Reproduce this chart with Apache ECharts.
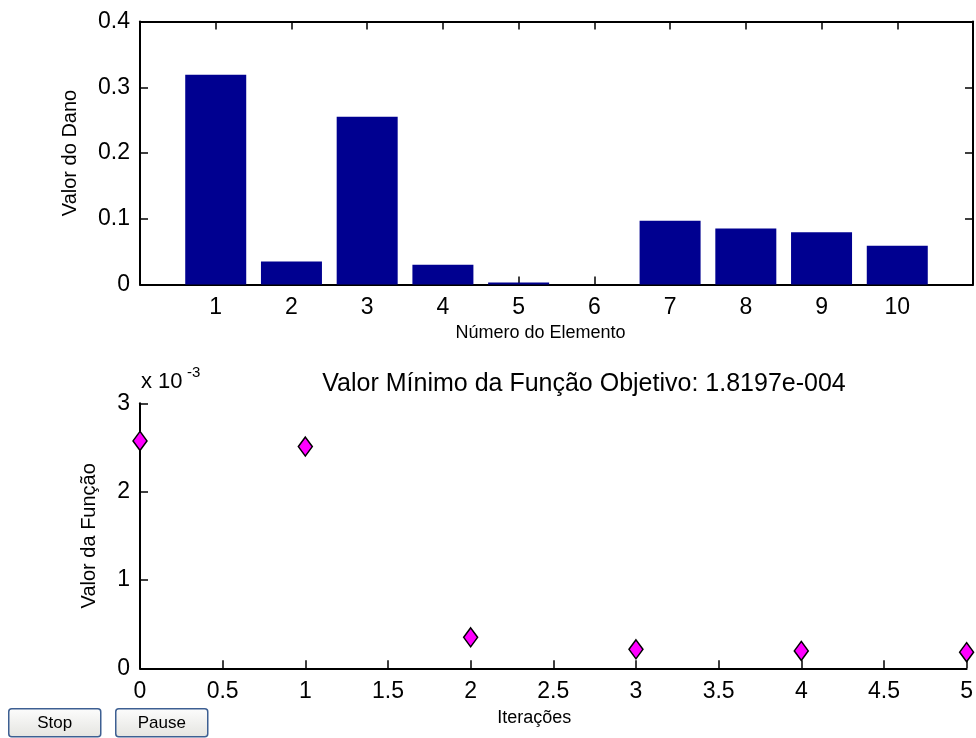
<!DOCTYPE html>
<html>
<head>
<meta charset="utf-8">
<script src="https://cdn.jsdelivr.net/npm/echarts@6/dist/echarts.min.js"></script>
<style>
  html, body { margin: 0; padding: 0; background: #ffffff; }
  #chart { width: 976px; height: 738px; }
</style>
</head>
<body>
<div id="chart"></div>
<script>
// ---- data ----
const elementos = [1, 2, 3, 4, 5, 6, 7, 8, 9, 10];
const valorDano = [0.319, 0.035, 0.255, 0.030, 0.003, 0, 0.097, 0.085, 0.0795, 0.059];
const iteracoes = [0, 1, 2, 3, 4, 5];
const valorFuncaoE3 = [2.574, 2.51, 0.351, 0.215, 0.196, 0.182]; // in units of 10^-3
const tituloInferior = 'Valor Mínimo da Função Objetivo: 1.8197e-004';
const nomeXSup = 'Número do Elemento';
const nomeYSup = 'Valor do Dano';
const nomeXInf = 'Iterações';
const nomeYInf = 'Valor da Função';
const botoes = ['Stop', 'Pause'];

const FONT = '"Liberation Sans", Arial, sans-serif';
const tickFont = { fontFamily: FONT, fontSize: 23, color: '#000' };
const yNameFont = { fontFamily: FONT, fontSize: 20, color: '#000' };
function xNameFont(shift) { return { fontFamily: FONT, fontSize: 18, color: '#000', padding: [0, 2 * shift, 0, 0] }; }
function axLine() { return { show: true, onZero: false, lineStyle: { color: '#000', width: 2 } }; }
function tick() { return { show: true, inside: true, length: 8, lineStyle: { color: '#000', width: 1.5 } }; }

const chart = echarts.init(document.getElementById('chart'), null, { renderer: 'canvas' });

function button(label, x) {
  return {
    type: 'group', left: x, top: 708,
    children: [
      { type: 'rect', shape: { x: 0, y: 0, width: 92, height: 28, r: 3 },
        style: { fill: new echarts.graphic.LinearGradient(0, 0, 0, 1, [
          { offset: 0, color: '#fdfdfd' }, { offset: 1, color: '#e4e4e0' }]),
          stroke: '#3d5f92', lineWidth: 1.5 } },
      { type: 'text', style: { text: label, x: 46, y: 15, align: 'center', verticalAlign: 'middle',
        fontFamily: FONT, fontSize: 17, fill: '#000' } }
    ]
  };
}

const option = {
  animation: false,
  backgroundColor: '#ffffff',
  grid: [
    { left: 140, top: 21.5, width: 835, height: 263 },
    { left: 140, top: 403.3, width: 833.5, height: 265 }
  ],
  xAxis: [
    { gridIndex: 0, type: 'value', min: 0, max: 11, interval: 1, position: 'bottom',
      axisLine: axLine(), axisTick: tick(),
      axisLabel: { ...tickFont, margin: 12,
        formatter: v => (elementos.indexOf(v) >= 0 ? String(v) : '') },
      splitLine: { show: false },
      name: nomeXSup, nameLocation: 'middle', nameGap: 40, nameTextStyle: xNameFont(16) },
    { gridIndex: 0, type: 'value', min: 0, max: 11, interval: 1, position: 'top',
      axisLine: axLine(), axisTick: tick(),
      axisLabel: { show: false }, splitLine: { show: false } },
    { gridIndex: 1, type: 'value', min: 0, max: 5, interval: 0.5, position: 'bottom',
      axisLine: axLine(), axisTick: tick(),
      axisLabel: { ...tickFont, margin: 12, showMinLabel: true, showMaxLabel: true },
      splitLine: { show: false },
      name: nomeXInf, nameLocation: 'middle', nameGap: 41, nameTextStyle: xNameFont(19) }
  ],
  yAxis: [
    { gridIndex: 0, type: 'value', min: 0, max: 0.4, interval: 0.1, position: 'left',
      axisLine: axLine(), axisTick: tick(),
      axisLabel: { ...tickFont, margin: 10 },
      splitLine: { show: false },
      name: nomeYSup, nameLocation: 'middle', nameGap: 60, nameRotate: 90, nameTextStyle: yNameFont },
    { gridIndex: 0, type: 'value', min: 0, max: 0.4, interval: 0.1, position: 'right',
      axisLine: axLine(), axisTick: tick(),
      axisLabel: { show: false }, splitLine: { show: false } },
    { gridIndex: 1, type: 'value', min: 0, max: 3, interval: 1, position: 'left',
      axisLine: axLine(), axisTick: tick(),
      axisLabel: { ...tickFont, margin: 10 },
      splitLine: { show: false },
      name: nomeYInf, nameLocation: 'middle', nameGap: 41, nameRotate: 90, nameTextStyle: yNameFont }
  ],
  series: [
    { type: 'bar', xAxisIndex: 0, yAxisIndex: 0, barWidth: 61,
      data: elementos.map((e, i) => [e, valorDano[i]]),
      itemStyle: { color: '#000090' },
      silent: true },
    { type: 'scatter', xAxisIndex: 2, yAxisIndex: 2, symbol: 'diamond', symbolSize: [14, 19],
      data: iteracoes.map((t, i) => [t, valorFuncaoE3[i]]),
      itemStyle: { color: '#ff00ff', borderColor: '#000', borderWidth: 1.5, opacity: 1 },
      clip: false, silent: true }
  ],
  graphic: [
    { type: 'text', style: { text: tituloInferior, x: 584, y: 384, align: 'center', verticalAlign: 'middle',
      fontFamily: FONT, fontSize: 25, fill: '#000' } },
    { type: 'text', style: { text: 'x 10', x: 141, y: 393, align: 'left', verticalAlign: 'bottom',
      fontFamily: FONT, fontSize: 22, fill: '#000' } },
    { type: 'text', style: { text: '-3', x: 187, y: 365, align: 'left', verticalAlign: 'top',
      fontFamily: FONT, fontSize: 15, fill: '#000' } },
    button(botoes[0], 8),
    button(botoes[1], 115)
  ]
};
chart.setOption(option);
</script>
</body>
</html>
